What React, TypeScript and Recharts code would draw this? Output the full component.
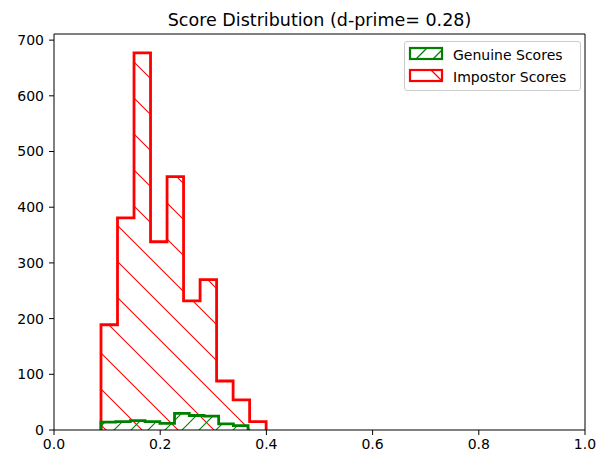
import React from 'react';
import { ComposedChart, Area, XAxis, YAxis, Legend, ReferenceLine } from 'recharts';

// Histogram bin edges and counts
const impostorEdges = [0.0885, 0.1196, 0.1507, 0.1818, 0.2129, 0.244, 0.2751, 0.3062, 0.3373, 0.3684, 0.3995];
const impostorCounts = [189, 381, 677, 338, 455, 232, 270, 88, 54, 15];
const genuineEdges = [0.0885, 0.1162, 0.1439, 0.1716, 0.1993, 0.227, 0.2547, 0.2824, 0.3101, 0.3378, 0.3655];
const genuineCounts = [14, 15, 17, 15, 12, 30, 26, 25, 11, 8];

const xTicks = [0, 0.2, 0.4, 0.6, 0.8, 1.0];
const yTicks = [0, 100, 200, 300, 400, 500, 600, 700];

const seriesNames = ['Genuine Scores', 'Impostor Scores'];
const titleText = 'Score Distribution (d-prime= 0.28)';

const X_MAX = 1;
const Y_MAX = 711;

type Row = { x: number; impostor?: number; genuine?: number };

function stepRows(edges: number[], counts: number[], key: 'impostor' | 'genuine'): Row[] {
  const rows: Row[] = [{ x: edges[0], [key]: 0 }];
  counts.forEach((c, i) => {
    rows.push({ x: edges[i], [key]: c });
    rows.push({ x: edges[i + 1], [key]: c });
  });
  rows.push({ x: edges[edges.length - 1], [key]: 0 });
  return rows;
}

const chartData: Row[] = [
  ...stepRows(impostorEdges, impostorCounts, 'impostor'),
  ...stepRows(genuineEdges, genuineCounts, 'genuine'),
];

const FONT = '"DejaVu Sans", sans-serif';

const LegendContent = () => (
  <div
    style={{
      position: 'relative',
      boxSizing: 'border-box',
      width: 177,
      height: 50,
      border: '1px solid #cccccc',
      borderRadius: 3,
      background: 'rgba(255,255,255,0.8)',
      fontFamily: FONT,
      fontSize: 14,
      color: '#000',
    }}
  >
    <svg width={44} height={48} style={{ position: 'absolute', left: 0, top: 0 }}>
      <rect x={5} y={6} width={32} height={11} fill="none" stroke="green" strokeWidth={2.2} />
      <line x1={11} y1={17} x2={22} y2={6} stroke="green" strokeWidth={1.2} />
      <line x1={28} y1={17} x2={37} y2={8} stroke="green" strokeWidth={1.2} />
      <rect x={5} y={28} width={32} height={11} fill="none" stroke="red" strokeWidth={2.2} />
      <line x1={26} y1={28} x2={37} y2={39} stroke="red" strokeWidth={1.2} />
    </svg>
    <div style={{ position: 'absolute', left: 48, top: 4, lineHeight: '18px', whiteSpace: 'nowrap' }}>{seriesNames[0]}</div>
    <div style={{ position: 'absolute', left: 48, top: 26, lineHeight: '18px', whiteSpace: 'nowrap' }}>{seriesNames[1]}</div>
  </div>
);

export default function App() {
  const tickStyle = { fill: '#000', fontSize: 14, fontFamily: FONT };
  return (
    <div style={{ position: 'absolute', left: 0, top: 0, width: 604, height: 456, background: '#fff' }}>
      <div
        style={{
          position: 'absolute',
          left: 54,
          width: 531,
          top: 10,
          textAlign: 'center',
          fontFamily: FONT,
          fontSize: 17.5,
          lineHeight: '20px',
          color: '#000',
          whiteSpace: 'nowrap',
        }}
      >
        {titleText}
      </div>
      <ComposedChart width={604} height={456} data={chartData} margin={{ top: 34, right: 19, bottom: 0, left: 0 }}>
        <defs>
          <pattern id="hatchBack" patternUnits="userSpaceOnUse" width={36} height={36}>
            <line x1={0} y1={0} x2={36} y2={36} stroke="red" strokeWidth={1.1} />
            <line x1={-2} y1={34} x2={2} y2={38} stroke="red" strokeWidth={1.1} />
            <line x1={34} y1={-2} x2={38} y2={2} stroke="red" strokeWidth={1.1} />
          </pattern>
          <pattern id="hatchFwd" patternUnits="userSpaceOnUse" width={17} height={17}>
            <line x1={0} y1={17} x2={17} y2={0} stroke="green" strokeWidth={1.1} />
            <line x1={-2} y1={2} x2={2} y2={-2} stroke="green" strokeWidth={1.1} />
            <line x1={15} y1={19} x2={19} y2={15} stroke="green" strokeWidth={1.1} />
          </pattern>
        </defs>
        <XAxis
          xAxisId="bottom"
          type="number"
          dataKey="x"
          domain={[0, X_MAX]}
          ticks={xTicks}
          tickFormatter={(v: number) => v.toFixed(1)}
          height={26}
          tickSize={5}
          tickMargin={4}
          tick={tickStyle}
          axisLine={{ stroke: '#000' }}
          tickLine={{ stroke: '#000' }}
          allowDataOverflow
        />
        <YAxis
          yAxisId="left"
          type="number"
          domain={[0, Y_MAX]}
          ticks={yTicks}
          width={54}
          tickSize={5}
          tickMargin={5}
          tick={tickStyle}
          axisLine={{ stroke: '#000' }}
          tickLine={{ stroke: '#000' }}
          allowDataOverflow
        />
        <ReferenceLine xAxisId="bottom" yAxisId="left" y={Y_MAX} stroke="#000" strokeWidth={1} />
        <ReferenceLine xAxisId="bottom" yAxisId="left" x={X_MAX} stroke="#000" strokeWidth={1} />
        <Legend
          layout="vertical"
          align="center"
          verticalAlign="middle"
          content={<LegendContent />}
          wrapperStyle={{ position: 'absolute', left: 404, top: 41, width: 177, height: 50 }}
        />
        <Area
          xAxisId="bottom"
          yAxisId="left"
          type="linear"
          dataKey="impostor"
          name={seriesNames[1]}
          connectNulls
          stroke="red"
          strokeWidth={2.8}
          fill="url(#hatchBack)"
          fillOpacity={1}
          dot={false}
          activeDot={false}
          isAnimationActive={false}
        />
        <Area
          xAxisId="bottom"
          yAxisId="left"
          type="linear"
          dataKey="genuine"
          name={seriesNames[0]}
          connectNulls
          stroke="green"
          strokeWidth={2.8}
          fill="url(#hatchFwd)"
          fillOpacity={1}
          dot={false}
          activeDot={false}
          isAnimationActive={false}
        />
      </ComposedChart>
    </div>
  );
}
